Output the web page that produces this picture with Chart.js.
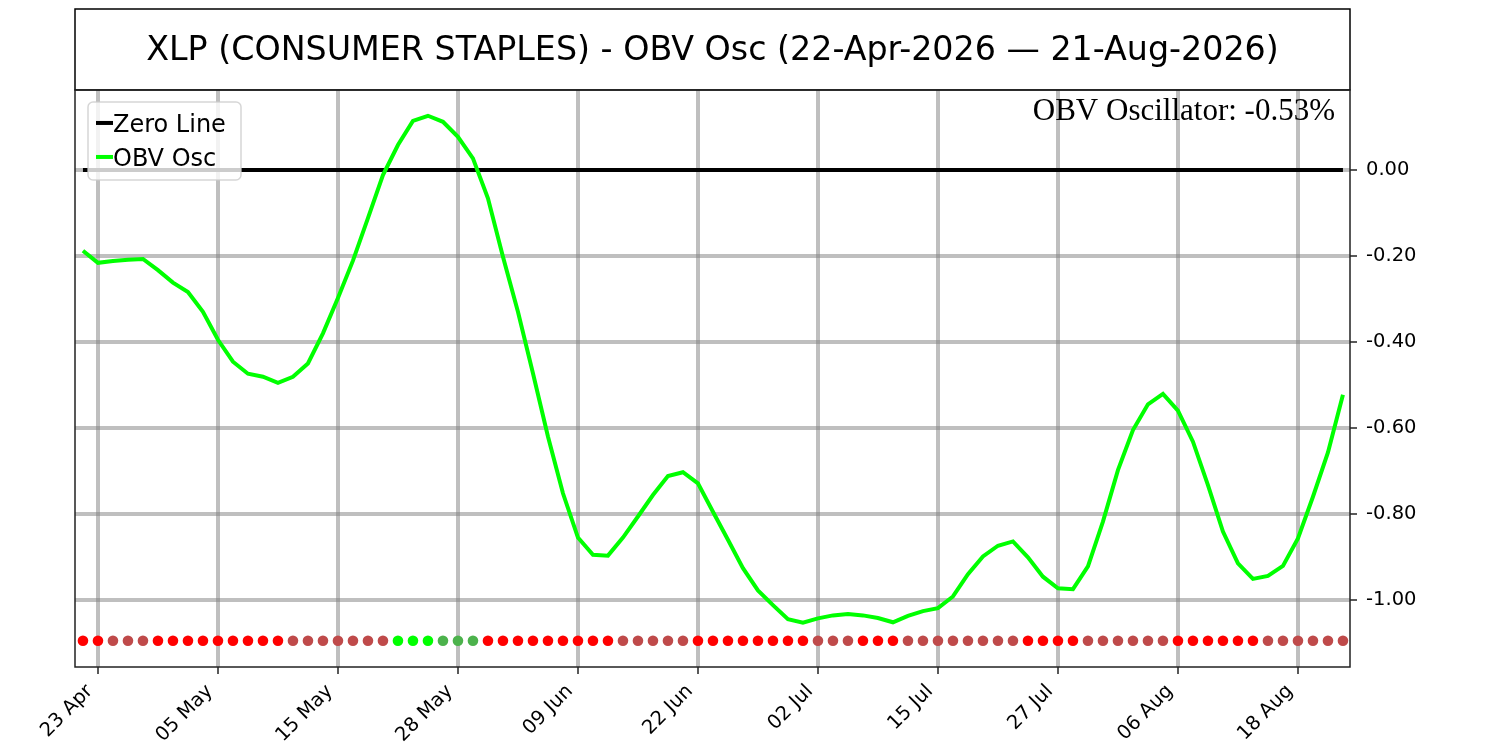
<!DOCTYPE html>
<html>
<head>
<meta charset="utf-8">
<title>XLP OBV Osc</title>
<script src="https://cdn.jsdelivr.net/npm/chart.js@4.4.1/dist/chart.umd.min.js"></script>
<style>
  html, body { margin: 0; padding: 0; background: #fff; }
  canvas { display: block; }
</style>
</head>
<body>
<canvas id="obvChart" width="1500" height="750"></canvas>
<script>
// OBV oscillator, one value per trading day (22 Apr .. 21 Aug 2026)
const obvOsc = [
  -0.188, -0.216, -0.212, -0.209, -0.207, -0.233, -0.262, -0.284, -0.330, -0.395,
  -0.446, -0.474, -0.481, -0.495, -0.481, -0.450, -0.380, -0.298, -0.211, -0.112,
  -0.012,  0.058,  0.114,  0.126,  0.112,  0.077,  0.027, -0.066, -0.202, -0.330,
  -0.473, -0.620, -0.752, -0.855, -0.895, -0.897, -0.855, -0.806, -0.756, -0.712,
  -0.703, -0.729, -0.795, -0.860, -0.926, -0.978, -1.012, -1.045, -1.053, -1.043,
  -1.036, -1.033, -1.036, -1.042, -1.052, -1.037, -1.026, -1.019, -0.992, -0.940,
  -0.899, -0.874, -0.864, -0.901, -0.946, -0.973, -0.975, -0.922, -0.818, -0.698,
  -0.605, -0.545, -0.521, -0.560, -0.632, -0.733, -0.841, -0.915, -0.951, -0.944,
  -0.921, -0.857, -0.760, -0.657, -0.523
];

// signal dot per day: R = neg/falling, B = neg/rising, G = pos/rising, D = pos/falling
const signals = [
  'R','R','B','B','B','R','R','R','R','R',
  'R','R','R','R','B','B','B','B','B','B',
  'B','G','G','G','D','D','D','R','R','R',
  'R','R','R','R','R','R','B','B','B','B',
  'B','R','R','R','R','R','R','R','R','B',
  'B','B','R','R','R','B','B','B','B','B',
  'B','B','B','R','R','R','R','B','B','B',
  'B','B','B','R','R','R','R','R','R','B',
  'B','B','B','B','B'
];
const signalLevel = -1.095;

const tickPos = [1, 9, 17, 25, 33, 41, 49, 57, 65, 73, 81];
const tickLabels = ['23 Apr', '05 May', '15 May', '28 May', '09 Jun', '22 Jun',
                    '02 Jul', '15 Jul', '27 Jul', '06 Aug', '18 Aug'];
const yTicks = [0, -0.2, -0.4, -0.6, -0.8, -1.0];

const titleText = 'XLP (CONSUMER STAPLES) - OBV Osc (22-Apr-2026 \u2014 21-Aug-2026)';
const noteText = 'OBV Oscillator: -0.53%';

const signalColors = { R: '#ff0000', B: '#bf4a4a', G: '#00ff00', D: '#4cb24c' };
const gridColor = 'rgba(128,128,128,0.5)';

// frames, annotation and the boxed legend (matplotlib look)
const decorations = {
  id: 'decorations',
  afterDraw(chart) {
    const ctx = chart.ctx;
    const a = chart.chartArea;
    const tb = chart.titleBlock;
    ctx.save();
    ctx.strokeStyle = '#000';
    ctx.lineWidth = 1.5;
    ctx.strokeRect(a.left, tb.top, a.right - a.left, a.top - tb.top);
    ctx.strokeStyle = '#222';
    ctx.strokeRect(a.left, a.top, a.right - a.left, a.bottom - a.top);

    // annotation, top right
    ctx.fillStyle = '#000';
    ctx.font = '31px "Liberation Serif", "Times New Roman", serif';
    ctx.textAlign = 'right';
    ctx.textBaseline = 'alphabetic';
    ctx.fillText(noteText, a.right - 15, a.top + 30);

    // legend box
    const lx = a.left + 13, ly = a.top + 12, lw = 153, lh = 78, r = 5;
    ctx.beginPath();
    ctx.moveTo(lx + r, ly);
    ctx.arcTo(lx + lw, ly, lx + lw, ly + lh, r);
    ctx.arcTo(lx + lw, ly + lh, lx, ly + lh, r);
    ctx.arcTo(lx, ly + lh, lx, ly, r);
    ctx.arcTo(lx, ly, lx + lw, ly, r);
    ctx.closePath();
    ctx.fillStyle = 'rgba(255,255,255,0.8)';
    ctx.fill();
    ctx.strokeStyle = 'rgba(204,204,204,0.8)';
    ctx.lineWidth = 1.5;
    ctx.stroke();

    const items = chart.data.datasets.filter(d => d.inLegend);
    ctx.font = '24px "DejaVu Sans"';
    ctx.textAlign = 'left';
    items.forEach((d, i) => {
      const cy = ly + 21 + i * 34;
      ctx.strokeStyle = d.borderColor;
      ctx.lineWidth = 4;
      ctx.beginPath();
      ctx.moveTo(lx + 8, cy);
      ctx.lineTo(lx + 25, cy);
      ctx.stroke();
      ctx.fillStyle = '#000';
      ctx.fillText(d.label, lx + 25, cy + 9);
    });
    ctx.restore();
  }
};

new Chart(document.getElementById('obvChart'), {
  type: 'line',
  data: {
    datasets: [
      {
        label: 'Zero Line',
        inLegend: true,
        data: obvOsc.map((v, i) => ({ x: i, y: 0 })),
        borderColor: '#000000',
        borderWidth: 4,
        pointRadius: 0,
        order: 1
      },
      {
        label: 'OBV Osc',
        inLegend: true,
        data: obvOsc.map((v, i) => ({ x: i, y: v })),
        borderColor: '#00ff00',
        borderWidth: 4,
        pointRadius: 0,
        tension: 0,
        order: 0
      },
      {
        label: 'Signal',
        data: signals.map((s, i) => ({ x: i, y: signalLevel })),
        showLine: false,
        pointRadius: 5.3,
        pointBorderWidth: 0,
        pointBackgroundColor: signals.map(s => signalColors[s]),
        pointBorderColor: signals.map(s => signalColors[s]),
        order: 2
      }
    ]
  },
  options: {
    responsive: false,
    devicePixelRatio: 1,
    animation: false,
    layout: { padding: { left: 75, top: 9, right: 0, bottom: 0 } },
    plugins: {
      legend: { display: false },
      tooltip: { enabled: false },
      title: {
        display: true,
        fullSize: false,
        text: titleText,
        color: '#000',
        font: { family: 'DejaVu Sans', size: 33.3, weight: 'normal' },
        padding: { top: 22, bottom: 19 }
      }
    },
    scales: {
      x: {
        type: 'linear',
        min: -0.53,
        max: 84.47,
        afterBuildTicks: s => { s.ticks = tickPos.map(v => ({ value: v })); },
        afterFit: s => { s.height = 83; s.paddingLeft = 0; s.paddingRight = 0; },
        ticks: {
          autoSkip: false,
          minRotation: 45,
          maxRotation: 45,
          padding: 6,
          labelOffset: -8,
          color: '#000',
          font: { family: 'DejaVu Sans', size: 19.5 },
          callback: v => tickLabels[tickPos.indexOf(v)]
        },
        grid: {
          color: gridColor,
          lineWidth: 4,
          tickColor: '#222',
          tickWidth: 1.5,
          tickLength: 7
        },
        border: { display: false }
      },
      y: {
        position: 'right',
        min: -1.156,
        max: 0.186,
        afterBuildTicks: s => { s.ticks = yTicks.map(v => ({ value: v })); },
        afterFit: s => { s.width = 150; s.paddingTop = 0; s.paddingBottom = 0; },
        ticks: {
          padding: 9,
          color: '#000',
          font: { family: 'DejaVu Sans', size: 19.5 },
          callback: v => v.toFixed(2)
        },
        grid: {
          color: gridColor,
          lineWidth: 4,
          tickColor: '#222',
          tickWidth: 1.5,
          tickLength: 7
        },
        border: { display: false }
      }
    }
  },
  plugins: [decorations]
});
</script>
</body>
</html>
